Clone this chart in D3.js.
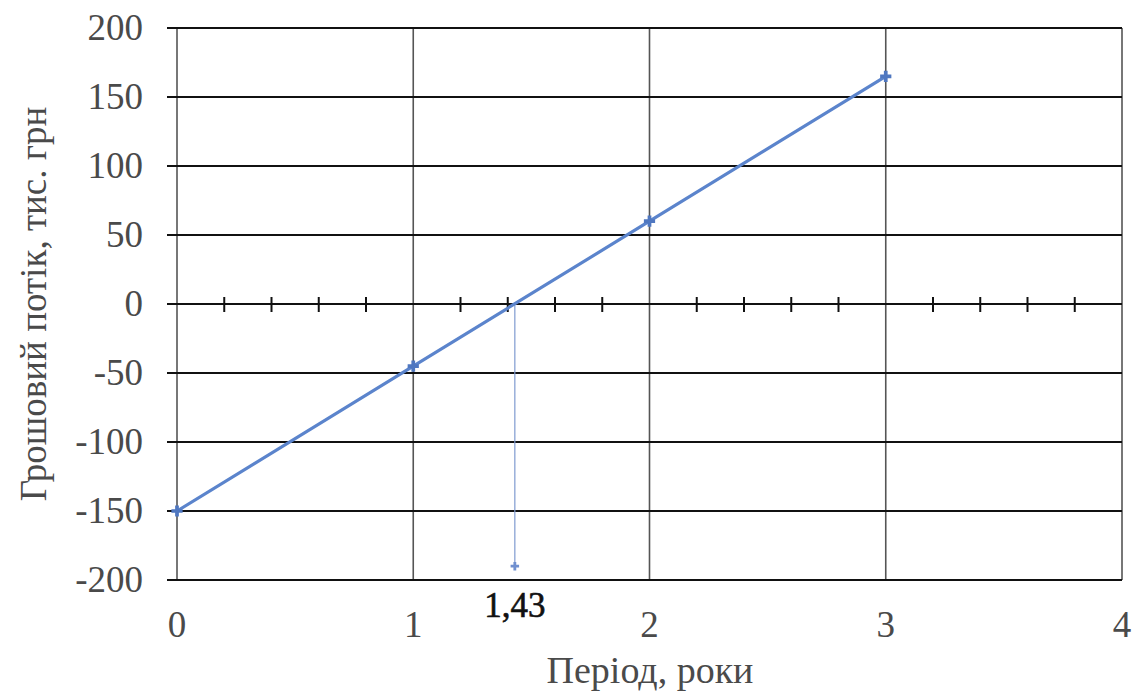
<!DOCTYPE html>
<html>
<head>
<meta charset="utf-8">
<script src="https://cdn.jsdelivr.net/npm/d3@7"></script>
<style>
  body { margin: 0; background: #fff; }
</style>
</head>
<body>
<div id="chart"></div>
<script>
// дані графіка
const periods = [0, 1, 2, 3];
const cashFlow = [-150, -45, 60, 165];
const xTicks = [0, 1, 2, 3, 4];
const yTicks = [-200, -150, -100, -50, 0, 50, 100, 150, 200];
const paybackX = 1.43;
const paybackBottom = -190;
const minorTicks = d3.range(1, 20).map(i => i * 0.2).filter(v => Math.abs(v - Math.round(v)) > 0.01);

const FONT = "Liberation Serif";
const W = 1138, H = 693;
const margin = { top: 28, right: 16, bottom: 113, left: 177 };
const width = W - margin.left - margin.right;
const height = H - margin.top - margin.bottom;

const svg = d3.select("#chart").append("svg")
    .attr("width", W).attr("height", H);
const g = svg.append("g").attr("transform", `translate(${margin.left},${margin.top})`);

const x = d3.scaleLinear().domain([0, 4]).range([0, width]);
const y = d3.scaleLinear().domain([-200, 200]).range([height, 0]);

// вертикальні лінії сітки
g.selectAll(".vgrid").data(xTicks).enter().append("line")
    .attr("x1", d => x(d)).attr("x2", d => x(d))
    .attr("y1", 0).attr("y2", height)
    .attr("stroke", "#555").attr("stroke-width", 1.6);

// горизонтальні лінії сітки
g.selectAll(".hgrid").data(yTicks).enter().append("line")
    .attr("x1", -10).attr("x2", width)
    .attr("y1", d => y(d)).attr("y2", d => y(d))
    .attr("stroke", "#111").attr("stroke-width", 2.2);

// дрібні поділки на осі 0
g.selectAll(".minor").data(minorTicks).enter().append("line")
    .attr("x1", d => x(d)).attr("x2", d => x(d))
    .attr("y1", y(0) - 7).attr("y2", y(0) + 8)
    .attr("stroke", "#111").attr("stroke-width", 2);

// підписи осі Y
g.selectAll(".ylab").data(yTicks).enter().append("text")
    .attr("x", -34).attr("y", d => y(d))
    .attr("dy", "0.33em")
    .attr("text-anchor", "end")
    .style("font-family", FONT)
    .attr("font-size", 37)
    .attr("fill", "#4a4a4a")
    .text(d => d);

// підписи осі X
g.selectAll(".xlab").data(xTicks).enter().append("text")
    .attr("x", d => x(d)).attr("y", height + 57)
    .attr("text-anchor", "middle")
    .style("font-family", FONT)
    .attr("font-size", 37)
    .attr("fill", "#4a4a4a")
    .text(d => d);

// лінія окупності
g.append("line")
    .attr("x1", x(paybackX)).attr("x2", x(paybackX))
    .attr("y1", y(0)).attr("y2", y(paybackBottom))
    .attr("stroke", "#7f9bd0").attr("stroke-width", 1.2);
g.append("path")
    .attr("d", d3.symbol(d3.symbolCross, 40)())
    .attr("transform", `translate(${x(paybackX)},${y(paybackBottom)})`)
    .attr("fill", "#6f8fcf");

// основна лінія
const data = periods.map((p, i) => ({ p, v: cashFlow[i] }));
g.append("path").datum(data)
    .attr("fill", "none")
    .attr("stroke", "#5b84cc")
    .attr("stroke-width", 3.2)
    .attr("d", d3.line().x(d => x(d.p)).y(d => y(d.v)));

g.selectAll(".pt").data(data).enter().append("path")
    .attr("d", d3.symbol(d3.symbolCross, 70)())
    .attr("transform", d => `translate(${x(d.p)},${y(d.v)})`)
    .attr("fill", "#4f77c0");

// підпис 1,43
g.append("text")
    .attr("x", x(paybackX)).attr("y", height + 37)
    .attr("text-anchor", "middle")
    .style("font-family", FONT)
    .attr("font-size", 35)
    .attr("fill", "#111")
    .attr("stroke", "#111").attr("stroke-width", 0.6)
    .text("1,43");

// назви осей
svg.append("text")
    .attr("x", 650).attr("y", 683)
    .attr("text-anchor", "middle")
    .style("font-family", FONT)
    .attr("font-size", 38)
    .attr("fill", "#4a4a4a")
    .text("Період, роки");

svg.append("text")
    .attr("transform", `translate(46,${margin.top + height / 2}) rotate(-90)`)
    .attr("text-anchor", "middle")
    .style("font-family", FONT)
    .attr("font-size", 37)
    .attr("fill", "#4a4a4a")
    .text("Грошовий потік, тис. грн");
</script>
</body>
</html>
